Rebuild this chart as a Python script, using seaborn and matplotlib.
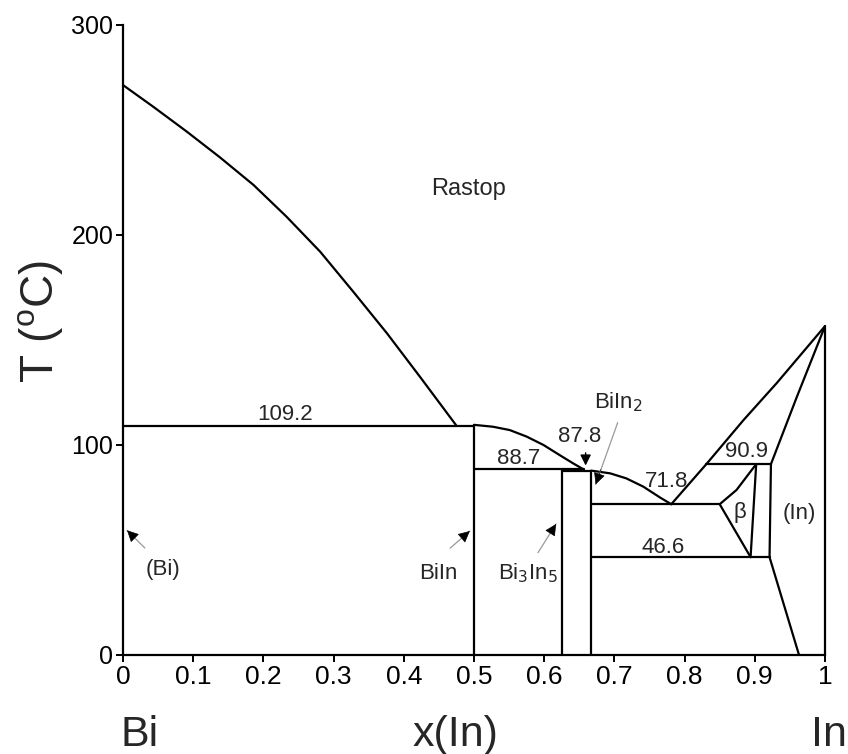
import matplotlib
matplotlib.use("Agg")
import pandas as pd
import matplotlib.pyplot as plt
import seaborn as sns

liq_bi_x = [0.0, 0.043, 0.091, 0.138, 0.186, 0.233, 0.281, 0.328, 0.376, 0.423, 0.475]
liq_bi_T = [271.4, 261.1, 249.2, 237.0, 223.8, 208.7, 192.0, 173.0, 153.2, 132.5, 109.2]

liq_biin_x = [0.5, 0.527, 0.551, 0.575, 0.599, 0.622, 0.641, 0.656]
liq_biin_T = [109.6, 108.7, 107.1, 104.0, 100.0, 95.2, 91.3, 88.4]

liq_biin2_x = [0.667, 0.694, 0.717, 0.741, 0.765, 0.781]
liq_biin2_T = [87.8, 86.5, 84.1, 80.2, 75.0, 71.8]

liq_in_x = [0.781, 0.831, 0.884, 0.931, 1.0]
liq_in_T = [71.8, 90.9, 111.9, 129.4, 156.6]

sol_in_x = [0.923, 0.96, 1.0]
sol_in_T = [90.9, 123.0, 156.6]

solvus_in_x = [0.923, 0.921, 0.963]
solvus_in_T = [90.9, 46.6, 0.0]

beta_left_x = [0.902, 0.874, 0.850, 0.894]
beta_left_T = [90.9, 78.6, 71.8, 46.6]
beta_right_x = [0.902, 0.894]
beta_right_T = [90.9, 46.6]

# isoterme: (T, x inizio, x fine)
iso_T = [109.2, 88.4, 87.8, 71.8, 90.9, 46.6]
iso_x0 = [0.0, 0.5, 0.625, 0.667, 0.831, 0.667]
iso_x1 = [0.5, 0.656, 0.667, 0.850, 0.923, 0.921]

# composti (linee verticali): x, T superiore
comp_x = [0.5, 0.625, 0.667, 1.0]
comp_T = [109.6, 88.4, 87.8, 156.6]

# etichette
lab_text = ["Rastop", "109.2", "88.7", "87.8", "71.8", "90.9", "46.6",
            "β", "(In)", "(Bi)", "BiIn", "Bi$_3$In$_5$", "BiIn$_2$"]
lab_x = [0.492, 0.231, 0.563, 0.651, 0.774, 0.888, 0.770,
         0.879, 0.964, 0.057, 0.449, 0.577, 0.705]
lab_T = [222, 114.5, 93.8, 104, 82.5, 96.8, 51,
         68, 67.5, 40.5, 38.9, 38.9, 120.6]

# frecce (coda -> punta)
arr_tail = [(0.034, 50), (0.463, 50), (0.589, 47.6), (0.706, 111.9)]
arr_tip = [(0.003, 60.3), (0.497, 59.9), (0.619, 63.5), (0.672, 80)]

# --- costruzione tabella dei segmenti ---
segs = []
def add(name, xs, ts):
    for x, t in zip(xs, ts):
        segs.append({"seg": name, "x": x, "T": t})

add("liq_bi", liq_bi_x, liq_bi_T)
add("liq_biin", liq_biin_x, liq_biin_T)
add("liq_biin2", liq_biin2_x, liq_biin2_T)
add("liq_in", liq_in_x, liq_in_T)
add("sol_in", sol_in_x, sol_in_T)
add("solvus_in", solvus_in_x, solvus_in_T)
add("beta_l", beta_left_x, beta_left_T)
add("beta_r", beta_right_x, beta_right_T)
for i, (t, a, b) in enumerate(zip(iso_T, iso_x0, iso_x1)):
    add(f"iso{i}", [a, b], [t, t])
for i, (x, t) in enumerate(zip(comp_x, comp_T)):
    add(f"comp{i}", [x, x], [0, t])
df = pd.DataFrame(segs)

sns.set_theme(style="ticks")
plt.rcParams["font.family"] = ["Liberation Sans", "DejaVu Sans"]

fig = plt.figure(figsize=(8.48, 7.54), dpi=100)
ax = fig.add_axes([123 / 848, 99 / 754, 702 / 848, 630 / 754])

sns.lineplot(data=df, x="x", y="T", units="seg", estimator=None, sort=False,
             color="black", linewidth=1.6, ax=ax, legend=False)
for ln in ax.lines:
    ln.set_clip_on(False)
    ln.set_solid_joinstyle("round")

ax.set_xlim(0, 1)
ax.set_ylim(0, 300)
ax.set_xticks([0, 0.1, 0.2, 0.3, 0.4, 0.5, 0.6, 0.7, 0.8, 0.9, 1])
ax.set_xticklabels(["0", "0.1", "0.2", "0.3", "0.4", "0.5", "0.6", "0.7", "0.8", "0.9", "1"],
                   fontsize=19)
ax.set_yticks([0, 100, 200, 300])
ax.set_yticklabels(["0", "100", "200", "300"], fontsize=18)
ax.tick_params(length=5, width=1.4, pad=2, colors="black")
ax.set_xlabel("")
ax.set_ylabel("")
sns.despine(ax=ax)
for s in ["left", "bottom"]:
    ax.spines[s].set_linewidth(1.6)
    ax.spines[s].set_color("black")

for txt, x, t in zip(lab_text, lab_x, lab_T):
    size = 17 if txt == "Rastop" else 16
    ax.text(x, t, txt, ha="center", va="center", fontsize=size)

# freccia 87.8
ax.annotate("", xy=(0.659, 88.9), xytext=(0.659, 97.6),
            arrowprops=dict(arrowstyle="-|>", color="black", lw=1.0, mutation_scale=16))
for (tx, tt), (px, pt) in zip(arr_tail, arr_tip):
    ax.annotate("", xy=(px, pt), xytext=(tx, tt),
                arrowprops=dict(arrowstyle="-", color="0.6", lw=0.9))
    ax.annotate("", xy=(px, pt), xytext=(px + (tx - px) * 0.3, pt + (tt - pt) * 0.3),
                arrowprops=dict(arrowstyle="-|>", color="black", lw=0.5, mutation_scale=18))

ax.text(-0.118, 159, "T ($\\mathregular{^o}$C)", rotation=90, ha="center", va="center",
        fontsize=33, clip_on=False)
ax.text(0.024, -38, "Bi", ha="center", va="center", fontsize=31, clip_on=False)
ax.text(0.473, -38, "x(In)", ha="center", va="center", fontsize=31, clip_on=False)
ax.text(1.031, -38, "In", ha="right", va="center", fontsize=31, clip_on=False)

fig.savefig("out.png", dpi=100)
